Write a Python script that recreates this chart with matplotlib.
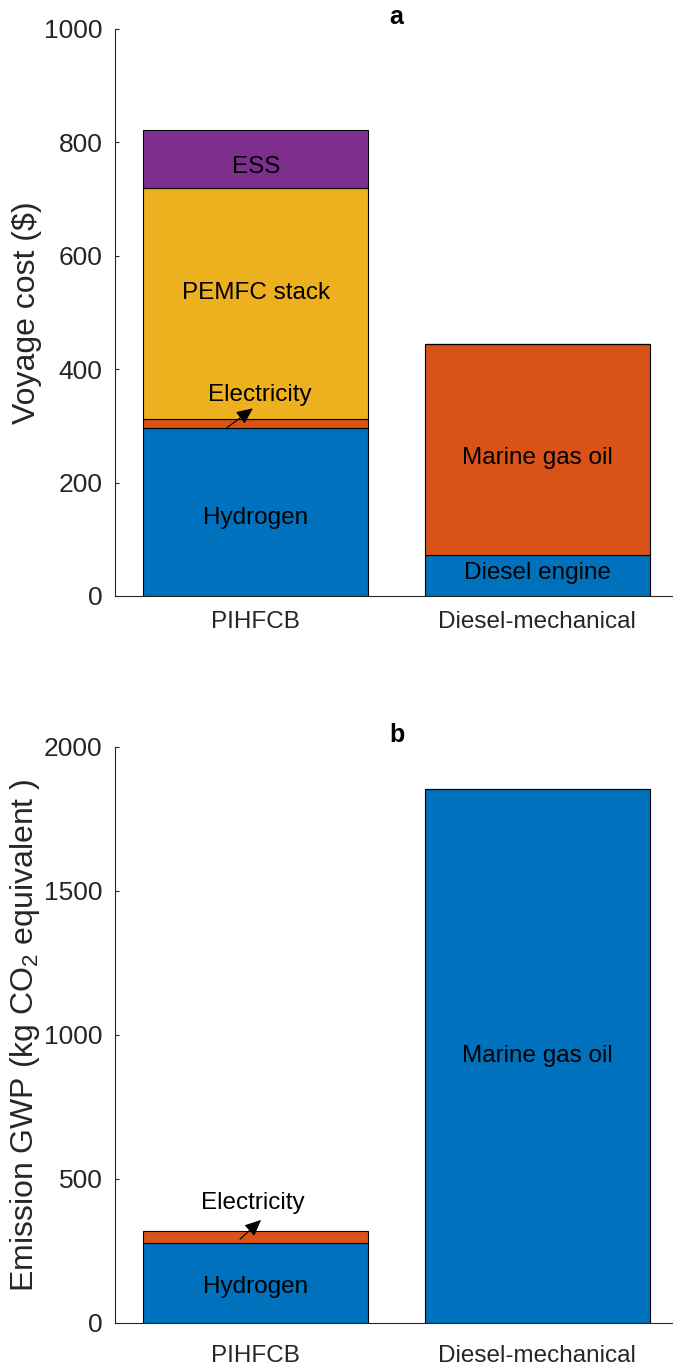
import numpy as np
import matplotlib
matplotlib.use('Agg')
from matplotlib import pyplot as plt

plt.rcParams['font.family'] = ['Liberation Sans', 'DejaVu Sans']
plt.rcParams['mathtext.fontset'] = 'custom'
plt.rcParams['mathtext.rm'] = 'Liberation Sans'
plt.rcParams['mathtext.default'] = 'regular'

# data
systems = ['PIHFCB', 'Diesel-mechanical']
# voyage cost ($), stacked series (MATLAB column order)
cost_series1 = [297, 72]    # Hydrogen / Diesel engine
cost_series2 = [15, 373]    # Electricity / Marine gas oil
cost_series3 = [407, 0]     # PEMFC stack
cost_series4 = [103, 0]     # ESS
# emission GWP (kg CO2 eq)
gwp_series1 = [278, 1854]   # Hydrogen / Marine gas oil
gwp_series2 = [40, 0]       # Electricity

colors = ['#0072BD', '#D95319', '#EDB120', '#7E2F8E']
axcol = '#262626'
fs_tick = 19
fs_xtick = 17.5
fs_text = 17.5
fs_label = 23


def stacked(ax, series):
    x = np.arange(1, len(systems) + 1)
    bottom = np.zeros(len(systems))
    for s, c in zip(series, colors):
        ax.bar(x, s, 0.8, bottom=bottom, color=c, edgecolor='k', linewidth=0.8, zorder=2)
        bottom = bottom + np.asarray(s)
    ax.set_xlim(0.5, 2.5)
    ax.set_xticks(x)
    ax.set_xticklabels(systems)
    for sp in ['top', 'right']:
        ax.spines[sp].set_visible(False)
    for sp in ['left', 'bottom']:
        ax.spines[sp].set_color(axcol)
        ax.spines[sp].set_linewidth(0.8)
    ax.tick_params(axis='y', direction='in', length=3, width=0.8, colors=axcol,
                   labelsize=fs_tick, pad=9)
    ax.tick_params(axis='x', length=0, colors=axcol, labelsize=fs_xtick)


def elec_arrow(ax, text_xy, tail, head):
    ax.annotate('', xy=head, xytext=tail,
                arrowprops=dict(arrowstyle='-|>,head_length=1.0,head_width=0.45',
                                color='k', lw=0.8, shrinkA=0, shrinkB=0), zorder=5)
    ax.text(*text_xy, 'Electricity', ha='center', va='center', fontsize=fs_text, zorder=5)


fig = plt.figure(figsize=(6.73, 13.68), dpi=100)

# %% panel a
ax1 = fig.add_axes([115 / 673, 1 - 596 / 1368, 563 / 673, 567 / 1368])
stacked(ax1, [cost_series1, cost_series2, cost_series3, cost_series4])
ax1.set_ylim(0, 1000)
ax1.set_yticks([0, 200, 400, 600, 800, 1000])
ax1.tick_params(axis='x', pad=11)
ax1.set_ylabel(r'Voyage cost (\$)', fontsize=fs_label, color=axcol)
ax1.yaxis.set_label_coords(-0.13, 0.5)
ax1.set_title('a', fontweight='bold', fontsize=18, pad=3)
ax1.text(1, 138, 'Hydrogen', ha='center', va='center', fontsize=fs_text)
ax1.text(1, 534, 'PEMFC stack', ha='center', va='center', fontsize=fs_text)
ax1.text(1, 757, 'ESS', ha='center', va='center', fontsize=fs_text)
ax1.text(2, 243, 'Marine gas oil', ha='center', va='center', fontsize=fs_text)
ax1.text(2, 40, 'Diesel engine', ha='center', va='center', fontsize=fs_text)
elec_arrow(ax1, (1.015, 354), (0.893, 295), (0.99, 331))

# %% panel b
ax2 = fig.add_axes([115 / 673, 1 - 1323 / 1368, 563 / 673, 576 / 1368])
stacked(ax2, [gwp_series1, gwp_series2])
ax2.set_ylim(0, 2000)
ax2.set_yticks([0, 500, 1000, 1500, 2000])
ax2.tick_params(axis='x', pad=16)
ax2.set_ylabel(r'Emission GWP (kg CO$_2$ equivalent )', fontsize=fs_label, color=axcol)
ax2.yaxis.set_label_coords(-0.13, 0.5)
ax2.set_title('b', fontweight='bold', fontsize=18, pad=3)
ax2.text(1, 126, 'Hydrogen', ha='center', va='center', fontsize=fs_text)
ax2.text(2, 928, 'Marine gas oil', ha='center', va='center', fontsize=fs_text)
elec_arrow(ax2, (0.989, 416), (0.944, 291), (1.019, 358))

fig.savefig('out.png', dpi=100)
